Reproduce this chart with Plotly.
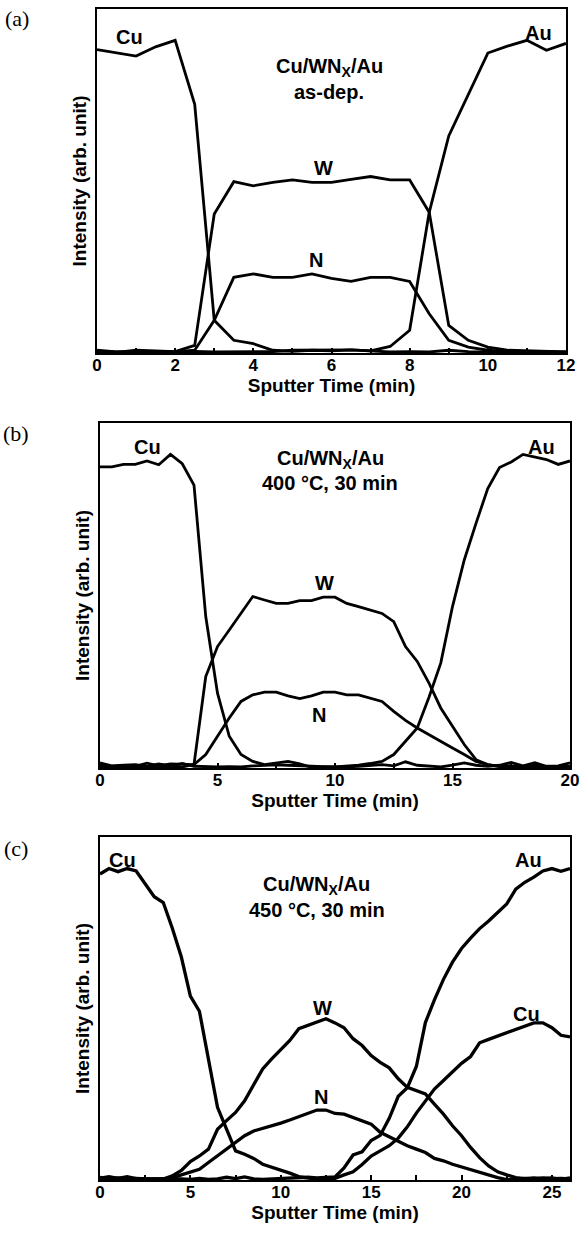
import plotly.graph_objects as go

# ---------------- data (intensity in % of full vertical scale) ----------------
t_a = [i * 0.5 for i in range(25)]          # 0 .. 12 min
cu_a = [88.2, 87.3, 86.3, 89.0, 90.9, 72.3, 9.5, 3.7, 2.7, 0.8, 0.5, 0.8, 0.6,
        0.9, 0.5, 0.3, 0.4, 0.3, 0.8, 0.4, 0.3, 0.2, 0.3, 0.3, 0.2]
w_a = [0.5, 0.2, 0.8, 0.6, 0.4, 2.2, 40.4, 49.8, 48.6, 49.6, 50.3, 49.6, 49.6,
       50.5, 51.3, 50.3, 50.3, 40.9, 8.0, 3.7, 1.7, 0.8, 0.6, 0.5, 0.3]
n_a = [0.3, 0.4, 0.3, 0.2, 0.3, 0.8, 9.5, 22.0, 23.0, 22.0, 22.0, 23.0, 21.7,
       20.8, 22.0, 22.0, 20.8, 11.4, 3.7, 1.7, 0.8, 0.4, 0.3, 0.2, 0.3]
au_a = [0.8, 0.3, 0.3, 0.5, 0.3, 0.5, 0.3, 0.3, 0.3, 0.4, 0.8, 0.9, 0.8,
        0.9, 0.6, 1.9, 6.6, 40.9, 63.1, 75.2, 87.2, 89.2, 90.9, 88.0, 90.0]

t_b = [i * 0.5 for i in range(41)]          # 0 .. 20 min
cu_b = [87.3, 87.3, 88.0, 88.0, 89.0, 87.9, 90.9, 88.2, 82.0, 43.9, 21.7, 9.2,
        3.9, 1.9, 1.0, 1.4, 1.9, 1.2, 0.2, 0.3, 0.2, 0.3, 0.5, 0.8, 1.0, 0.6,
        1.8, 0.8, 0.6, 0.3, 0.8, 1.5, 0.8, 0.5, 0.8, 1.6, 0.6, 1.5, 0.5, 0.6, 1.5]
w_b = [0.8, 0.5, 0.5, 0.5, 1.4, 0.6, 1.2, 1.1, 1.0, 26.5, 35.2, 40.0, 44.8,
       49.7, 48.7, 47.7, 47.7, 48.5, 48.5, 49.5, 49.5, 47.7, 46.8, 45.8, 44.8,
       42.4, 35.2, 30.9, 24.6, 17.4, 12.1, 6.8, 2.4, 1.0, 0.5, 0.6, 0.4, 0.8,
       0.4, 0.5, 0.5]
n_b = [0.3, 0.3, 0.3, 0.3, 0.3, 0.3, 0.3, 0.3, 1.0, 3.9, 9.2, 14.5, 19.3, 21.2,
       22.0, 22.0, 20.9, 20.1, 20.9, 22.0, 22.0, 21.2, 21.2, 20.3, 19.3, 16.4,
       13.8, 11.6, 9.6, 7.7, 5.8, 3.9, 1.9, 1.0, 0.4, 0.3, 0.3, 0.3, 0.3, 0.3, 0.3]
au_b = [1.5, 0.6, 0.8, 1.0, 0.5, 1.2, 0.6, 1.3, 0.5, 0.3, 0.3, 0.4, 0.3, 0.6,
        0.8, 0.9, 0.8, 0.6, 0.4, 0.4, 0.3, 0.5, 0.8, 1.3, 1.9, 3.9, 7.7, 11.6,
        20.5, 30.4, 46.8, 60.3, 70.9, 81.0, 87.1, 88.7, 90.9, 90.2, 89.4, 88.0, 89.0]

t_c = [i * 0.5 for i in range(53)]          # 0 .. 26 min
cu_c = [89.2, 90.8, 89.9, 90.8, 90.1, 86.5, 82.6, 80.9, 73.4, 65.0, 53.6, 49.2,
        34.8, 21.2, 14.8, 8.5, 7.5, 6.3, 4.6, 3.8, 2.8, 2.0, 1.0, 0.7, 0.2,
        0.3, 0.5, 1.5, 2.4, 4.5, 7.0, 8.5, 10.0, 12.2, 15.5, 19.5, 23.0, 26.5,
        29.0, 31.5, 34.0, 36.0, 40.0, 41.0, 42.0, 43.0, 44.0, 45.0, 45.8, 45.8,
        44.4, 42.2, 41.7]
w_c = [0.5, 1.0, 0.5, 1.0, 0.4, 0.2, 0.3, 0.3, 1.2, 2.8, 5.4, 7.0, 9.0, 14.8,
       17.3, 19.7, 23.1, 28.0, 32.4, 35.3, 38.0, 40.7, 44.1, 45.1, 46.0, 47.0,
       45.8, 44.4, 41.2, 39.2, 36.3, 34.3, 32.7, 29.5, 27.0, 26.0, 25.1, 22.1,
       19.2, 15.8, 12.9, 9.5, 6.5, 4.1, 2.4, 1.5, 0.7, 0.4, 0.6, 0.4, 0.6, 0.2, 0.6]
n_c = [0.3, 0.5, 0.3, 0.6, 0.3, 0.2, 0.3, 0.3, 0.7, 1.5, 2.4, 3.1, 5.1, 7.0,
       9.0, 10.9, 12.9, 14.3, 15.0, 15.8, 16.6, 17.5, 18.4, 19.4, 20.4, 20.4,
       19.4, 19.2, 18.2, 17.3, 16.3, 13.9, 12.6, 11.4, 10.0, 9.0, 8.0, 6.3, 5.6,
       4.6, 3.8, 2.9, 2.1, 1.4, 0.7, 0.1, 0.3, 0.5, 0.3, 0.6, 0.4, 0.5, 0.3]
au_c = [0.8, 0.4, 0.6, 0.3, 0.5, 0.3, 0.2, 0.3, 0.4, 0.3, 0.2, 0.5, 0.2, 0.3,
        0.8, 0.4, 0.9, 0.3, 0.2, 0.3, 0.6, 0.5, 0.7, 0.8, 0.6, 0.7, 0.9, 3.5,
        7.3, 8.2, 11.5, 13.0, 18.0, 24.4, 26.9, 33.1, 45.9, 52.5, 58.5, 63.5,
        67.5, 70.5, 73.3, 75.5, 78.0, 80.5, 84.8, 86.8, 88.3, 90.1, 90.8, 90.0, 90.8]

panels = [
    dict(t=t_a, series=[cu_a, w_a, n_a, au_a], xmax=12, dtick=2, minor=1, lw=2.8,
         tag="(a)", sub="as-dep.",
         lab=[("Cu", 0.84, 91.9), ("Au", 11.3, 93.0), ("W", 5.8, 53.8), ("N", 5.6, 27.0)],
         title_pos=(5.94, 83.1, 75.9)),
    dict(t=t_b, series=[cu_b, w_b, n_b, au_b], xmax=20, dtick=5, minor=2.5, lw=2.8,
         tag="(b)", sub="400 \u00b0C, 30 min",
         lab=[("Cu", 2.0, 93.1), ("Au", 18.8, 93.1), ("W", 9.55, 53.5), ("N", 9.3, 15.4)],
         title_pos=(9.8, 89.3, 82.6)),
    dict(t=t_c, series=[cu_c, w_c, n_c, au_c], xmax=26, dtick=5, minor=2.5, lw=3.3,
         tag="(c)", sub="450 \u00b0C, 30 min",
         lab=[("Cu", 1.27, 93.3), ("Au", 23.7, 93.3), ("W", 12.3, 50.1), ("N", 12.2, 24.2),
              ("Cu", 23.6, 48.4)],
         title_pos=(12.0, 86.0, 78.7)),
]

# ---------------- layout geometry (pixels) ----------------
W, H = 584, 1234
ML, MR, MT, MB = 60, 10, 0, 40
PW, PH = W - ML - MR, H - MT - MB
boxes = [(97, 566, 9, 353), (100, 570, 423, 768), (100, 570, 837, 1180)]
tags_px = [(17, 19), (16, 433), (16, 848)]

FONT = "Liberation Sans"
SERIF = "Liberation Serif"

fig = go.Figure()
annotations = []
layout = {}
for i, (p, box) in enumerate(zip(panels, boxes)):
    k = "" if i == 0 else str(i + 1)
    x0, x1, y0, y1 = box
    xd = [(x0 - ML) / PW, (x1 - ML) / PW]
    yd = [(PH + MT - y1) / PH, (PH + MT - y0) / PH]
    for s in p["series"]:
        fig.add_trace(go.Scatter(x=p["t"], y=s, mode="lines",
                                 line=dict(color="black", width=p["lw"]),
                                 xaxis="x" + k, yaxis="y" + k, showlegend=False,
                                 hoverinfo="skip"))
    layout["xaxis" + k] = dict(
        domain=xd, anchor="y" + k, range=[0, p["xmax"]], dtick=p["dtick"], tick0=0,
        ticks="inside", ticklen=5, tickwidth=1.5, tickcolor="black",
        ticklabelstandoff=-4,
        minor=dict(dtick=p["minor"], tick0=0, ticks="inside", ticklen=5,
                   tickwidth=1.5, tickcolor="black"),
        showline=True, linecolor="black", linewidth=1.6, mirror=True,
        showgrid=False, zeroline=False,
        tickfont=dict(family=FONT, size=17, color="black", weight="bold"),
        title=dict(text="Sputter Time (min)", standoff=0,
                   font=dict(family=FONT, size=19, color="black", weight="bold")))
    layout["yaxis" + k] = dict(
        domain=yd, anchor="x" + k, range=[0, 100], showticklabels=False,
        ticks="", showline=True, linecolor="black", linewidth=1.6, mirror=True,
        showgrid=False, zeroline=False,
        title=dict(text="Intensity (arb. unit)", standoff=4,
                   font=dict(family=FONT, size=19, color="black", weight="bold")))
    for txt, xx, yy in p["lab"]:
        annotations.append(dict(text=txt, x=xx, y=yy, xref="x" + k, yref="y" + k,
                                showarrow=False,
                                font=dict(family=FONT, size=20, color="black",
                                          weight="bold")))
    tx, ty1, ty2 = p["title_pos"]
    annotations.append(dict(text="Cu/WN<sub>X</sub>/Au", x=tx, y=ty1, xref="x" + k,
                            yref="y" + k, showarrow=False,
                            font=dict(family=FONT, size=20, color="black", weight="bold")))
    annotations.append(dict(text=p["sub"], x=tx, y=ty2, xref="x" + k,
                            yref="y" + k, showarrow=False,
                            font=dict(family=FONT, size=20, color="black", weight="bold")))
    px_, py_ = tags_px[i]
    annotations.append(dict(text=p["tag"], x=(px_ - ML) / PW, y=(PH + MT - py_) / PH,
                            xref="paper", yref="paper", showarrow=False,
                            xanchor="center", yanchor="middle",
                            font=dict(family=SERIF, size=22, color="black")))

fig.update_layout(width=W, height=H, margin=dict(l=ML, r=MR, t=MT, b=MB),
                  paper_bgcolor="white", plot_bgcolor="white",
                  annotations=annotations, **layout)
fig.write_html("out.html")
